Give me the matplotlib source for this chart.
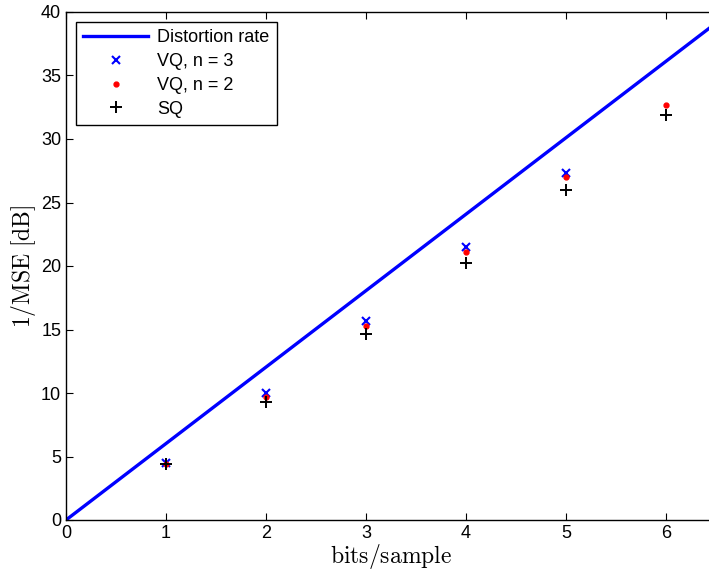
import numpy as np
import matplotlib
matplotlib.use('Agg')
import matplotlib.pyplot as plt

plt.rcParams['font.family'] = ['Liberation Sans', 'DejaVu Sans']
plt.rcParams['mathtext.fontset'] = 'cm'

# rate (bits/sample)
bits = [1, 2, 3, 4, 5, 6]
vq3 = [4.5, 10.0, 15.7, 21.5, 27.3]
vq2 = [4.4, 9.7, 15.3, 21.1, 27.0, 32.7]
sq = [4.40, 9.30, 14.62, 20.22, 26.01, 31.89]
rate = [0, 6.5]
slope_db = 6.02

fig = plt.figure(figsize=(7.09, 5.76), dpi=100)
ax = fig.add_axes([66 / 709, 1 - 520 / 576, 650 / 709, 508 / 576])

ax.plot(rate, [r * slope_db for r in rate], color='#0000ff', lw=2.4, label='Distortion rate')
ax.plot(bits[:len(vq3)], vq3, 'x', color='#0000ff', ms=6, mew=1.5, label='VQ, n = 3')
ax.plot(bits, vq2, '.', color='#ff0000', ms=7, label='VQ, n = 2')
ax.plot(bits, sq, '+', color='black', ms=9, mew=1.4, label='SQ')

ax.set_xlim(0, 6.5)
ax.set_ylim(0, 40)
ax.set_xticks(range(0, 7))
ax.set_yticks(range(0, 41, 5))
ax.tick_params(direction='in', top=True, right=True, labelsize=13, length=5, width=0.8)
for s in ax.spines.values():
    s.set_linewidth(1.0)

ax.set_xlabel(r'$\mathrm{bits/sample}$', fontsize=17, labelpad=0)
ax.set_ylabel(r'$\mathrm{1/MSE\ [dB]}$', fontsize=17, labelpad=2)

leg = ax.legend(loc='upper left', fontsize=13, fancybox=False, edgecolor='black',
                framealpha=1, borderaxespad=0.55, handlelength=3.6, labelspacing=0.38,
                handletextpad=0.5, borderpad=0.4)
leg.get_frame().set_linewidth(1.0)

fig.savefig('out.png', dpi=100)
